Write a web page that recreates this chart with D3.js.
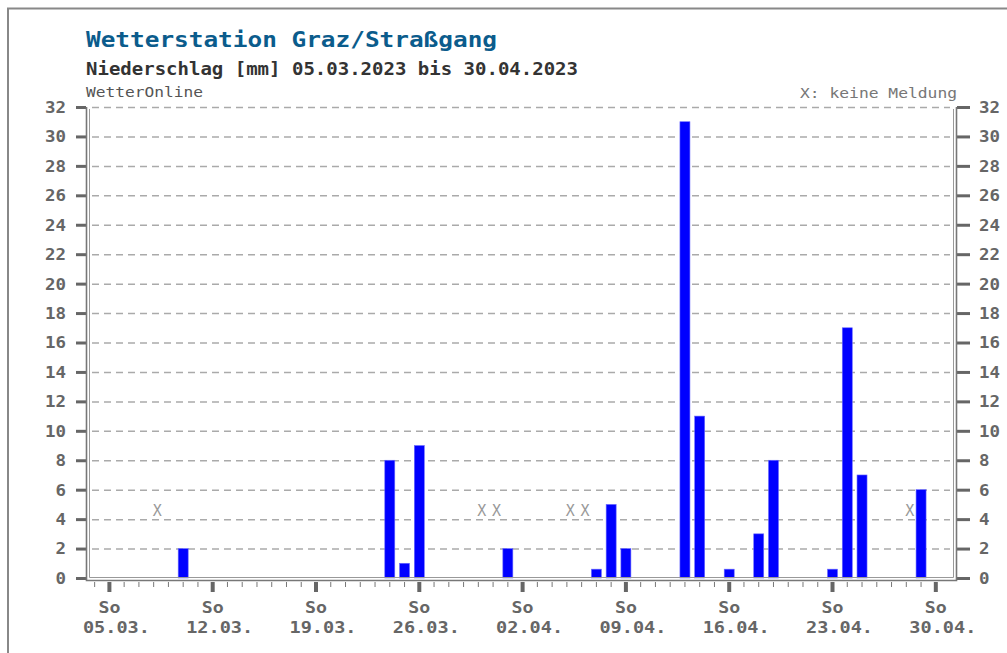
<!DOCTYPE html>
<html>
<head>
<meta charset="utf-8">
<script src="https://cdn.jsdelivr.net/npm/d3@7"></script>
<style>
  html, body { margin: 0; padding: 0; background: #fff; }
  svg { display: block; }
  text { font-family: "DejaVu Sans Mono", "Liberation Mono", monospace; }
</style>
</head>
<body>
<svg id="chart" width="1007" height="653"></svg>
<script>
// Daily precipitation, Graz/Straßgang, 05.03.2023 – 30.04.2023
const startDate = "2023-03-05";
const endDate = "2023-04-30";
const rainDates = ["2023-03-10", "2023-03-24", "2023-03-25", "2023-03-26", "2023-04-01",
                   "2023-04-07", "2023-04-08", "2023-04-09", "2023-04-13", "2023-04-14",
                   "2023-04-16", "2023-04-18", "2023-04-19", "2023-04-23", "2023-04-24",
                   "2023-04-25", "2023-04-29"];
const rainValues = [2, 8, 1, 9, 2, 0.6, 5, 2, 31, 11, 0.6, 3, 8, 0.6, 17, 7, 6];
// days without a report
const missingDates = ["2023-03-08", "2023-03-30", "2023-03-31", "2023-04-05", "2023-04-06", "2023-04-28"];
const yTicks = [0, 2, 4, 6, 8, 10, 12, 14, 16, 18, 20, 22, 24, 26, 28, 30, 32];
const weekDates = ["2023-03-05", "2023-03-12", "2023-03-19", "2023-03-26",
                   "2023-04-02", "2023-04-09", "2023-04-16", "2023-04-23", "2023-04-30"];
const weekLabels = ["05.03.", "12.03.", "19.03.", "26.03.", "02.04.", "09.04.", "16.04.", "23.04.", "30.04."];
const missingMarkLevel = 4.6;

const DAY = 86400000;
const t0 = Date.parse(startDate);
const dayIndex = s => Math.round((Date.parse(s) - t0) / DAY);
const nDays = dayIndex(endDate);

const svg = d3.select("#chart");

// outer frame
svg.append("path").attr("d", "M8,653 V8.5 H1007")
  .attr("fill", "none").attr("stroke", "#888").attr("stroke-width", 2);

const x = d3.scaleLinear().domain([-1.45, 57.3]).range([88, 955]);
const y = d3.scaleLinear().domain([0, 32]).range([578, 107]);

// titles
svg.append("text").attr("x", 86).attr("y", 47).text("Wetterstation Graz/Straßgang")
  .attr("fill", "#0b5c8c").attr("font-size", 22).attr("font-weight", "bold")
  .attr("textLength", 411).attr("lengthAdjust", "spacingAndGlyphs");
svg.append("text").attr("x", 86).attr("y", 75).text("Niederschlag [mm] 05.03.2023 bis 30.04.2023")
  .attr("fill", "#333").attr("font-size", 17).attr("font-weight", "bold")
  .attr("textLength", 492).attr("lengthAdjust", "spacingAndGlyphs");
svg.append("text").attr("x", 86).attr("y", 97).text("WetterOnline")
  .attr("fill", "#555").attr("font-size", 14)
  .attr("textLength", 117).attr("lengthAdjust", "spacingAndGlyphs");
svg.append("text").attr("x", 957).attr("y", 98).attr("text-anchor", "end").text("X: keine Meldung")
  .attr("fill", "#777").attr("font-size", 14)
  .attr("textLength", 157).attr("lengthAdjust", "spacingAndGlyphs");

// horizontal dashed grid
svg.append("g").selectAll("line").data(yTicks.filter(v => v > 0)).join("line")
  .attr("x1", 92).attr("x2", 950)
  .attr("y1", d => y(d) + 0.5).attr("y2", d => y(d) + 0.5)
  .attr("stroke", "#aaa").attr("stroke-width", 1.5).attr("stroke-dasharray", "7,5");

// left and right value axes
const yLeft = d3.axisLeft(y).tickValues(yTicks).tickSize(10).tickPadding(10);
const gL = svg.append("g").attr("transform", "translate(86,0)").call(yLeft);
const yRight = d3.axisRight(y).tickValues(yTicks).tickSize(13).tickPadding(9);
const gR = svg.append("g").attr("transform", "translate(957,0)").call(yRight);
[gL, gR].forEach(g => {
  g.select(".domain").remove();
  g.selectAll(".tick line").attr("stroke", "#666").attr("stroke-width", 3);
  g.selectAll(".tick text").attr("fill", "#666").attr("font-size", 15).attr("font-weight", "bold")
    .attr("font-family", "\"DejaVu Sans Mono\", monospace").attr("dy", "0.36em")
    .attr("textLength", d => String(d).length * 10.5).attr("lengthAdjust", "spacingAndGlyphs");
});

// bars
svg.append("g").selectAll("rect").data(rainDates.map((d, i) => ({day: dayIndex(d), v: rainValues[i]})))
  .join("rect")
  .attr("x", d => x(d.day) - 5).attr("width", 10)
  .attr("y", d => y(d.v)).attr("height", d => y(0) - y(d.v))
  .attr("fill", "#0000ff").attr("stroke", "#6b6bff").attr("stroke-width", 0.6);

// missing report markers
svg.append("g").selectAll("text").data(missingDates.map(dayIndex)).join("text")
  .attr("x", d => x(d) + 3.5).attr("y", y(missingMarkLevel) + 6)
  .attr("text-anchor", "middle").attr("fill", "#999").attr("font-size", 15)
  .text("X");

// axis frame lines (double lines)
const frame = svg.append("g").attr("fill", "none");
frame.append("path").attr("d", `M86.5,${y(32)} V580.5 H956.5 V${y(32)}`)
  .attr("stroke", "#777").attr("stroke-width", 1.6);
frame.append("path").attr("d", `M89.5,${y(32) + 2} V577.5 H953.5 V${y(32) + 2}`)
  .attr("stroke", "#999").attr("stroke-width", 1);

// day ticks on time axis
const days = d3.range(-1, nDays + 1);
svg.append("g").selectAll("line").data(days.filter(d => d % 7 !== 0)).join("line")
  .attr("x1", d => x(d)).attr("x2", d => x(d))
  .attr("y1", 582).attr("y2", 587).attr("stroke", "#777").attr("stroke-width", 1);
const weekIdx = weekDates.map(dayIndex);
svg.append("g").selectAll("line").data(weekIdx).join("line")
  .attr("x1", d => x(d)).attr("x2", d => x(d))
  .attr("y1", 582).attr("y2", 592).attr("stroke", "#666").attr("stroke-width", 4);

const lbl = svg.append("g").attr("fill", "#666").attr("font-size", 15).attr("font-weight", "bold")
  .attr("text-anchor", "middle");
lbl.selectAll("text.so").data(weekIdx).join("text").attr("class", "so")
  .attr("x", d => x(d)).attr("y", 613)
  .attr("textLength", 22).attr("lengthAdjust", "spacingAndGlyphs").text("So");
lbl.selectAll("text.dt").data(weekIdx).join("text").attr("class", "dt")
  .attr("x", d => x(d) + 7).attr("y", 633)
  .attr("textLength", 67).attr("lengthAdjust", "spacingAndGlyphs").text((d, i) => weekLabels[i]);
</script>
</body>
</html>
